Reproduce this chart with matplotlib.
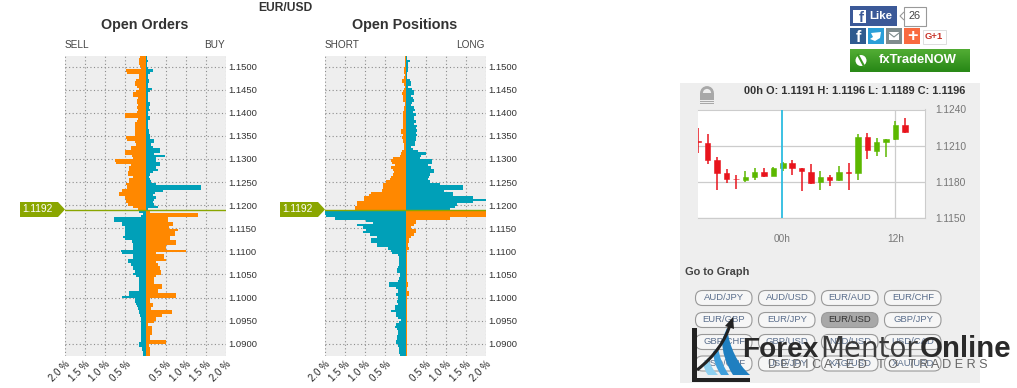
import numpy as np
import matplotlib
matplotlib.use("Agg")
import matplotlib.pyplot as plt
from matplotlib.colors import LinearSegmentedColormap
from matplotlib.patches import Rectangle, Polygon, FancyBboxPatch, PathPatch, Circle
from matplotlib.path import Path
from matplotlib.transforms import ScaledTranslation

plt.rcParams['font.family'] = ['Liberation Sans', 'DejaVu Sans']

# order book, % per 5 pip bin, top row first
orders_sell_up = [.13,.15,.17,.17,.13,.12,.48,.47,.15,.17, .23,.26,.25,.22,.15,.23,.32,.30,.19,.22,
                  .22,.19,.22,.19,.22,.52,.50,.19,.22,.25, .25,.25,.27,.27,.27,.48,.47,.25,.23,.35,
                  .35,.52,.50,.33,.32,.75,.73,.36,.40,.42, .44,.44,.30,.42,.40,.48,.47,.47,.58,.67,
                  .67,.50,.48,.48,.44,.32,.19]
orders_buy_up = [.04,.04,.06,.04,.04,.05,.18,.12,.06,.06, .08,.08,.06,.06,.17,.12,.06,.06,.06,.06,
                 .10,.10,.08,.10,.06,.06,.12,.12,.06,.07, .07,.07,.09,.09,.10,.10,.22,.20,.14,.18,
                 .37,.37,.20,.48,.27,.27,.35,.35,.27,.30, .18,.10,.08,.10,.14,.27,1.37,1.37,.43,.23,
                 .18,.25,.22,.18,.22,.30,.06]
orders_sell_down = [.15,.07,.10,.78,.78,.58,.58,.52,.50,.52, .52,.55,.50,.33,.32,.32,.32,.60,.58,.30,
                    .30,.44,.44,.35,.30,.30,.27,.30,.23,.15, .17,.17,.17,.15,.17,.40,.40,.58,.27,.25,
                    .23,.22,.19,.17,.15,.13,.12,.12,.12,.10, .10,.10,.10,.10,.10,.10,.10,.17,.17,.08,
                    .08,.07,.07]
orders_buy_down = [.10,1.30,1.30,.56,.56,.68,.68,.58,.80,.73, .73,.62,.62,.75,.75,.50,.50,1.00,.27,.45,
                   .45,.50,.27,.30,.35,.35,.38,.38,.27,.22, .20,.22,.40,.40,.30,.30,.75,.75,.10,.10,
                   .18,.18,.14,.65,.65,.40,.27,.27,.22,.06, .17,.17,.17,.17,.10,.10,.50,.50,.08,.12,
                   .12,.12,.12]
pos_short_up = [.02,.02,.02,.02,.02,.03,.04,.03,.02,.03, .08,.08,.03,.02,.03,.06,.08,.05,.07,.07,
                .02,.02,.03,.03,.05,.07,.07,.07,.05,.05, .05,.07,.11,.12,.07,.09,.05,.05,.04,.03,
                .04,.08,.10,.13,.30,.36,.34,.25,.36,.32, .28,.30,.35,.38,.48,.55,.57,.57,.58,.86,
                .90,1.02,1.02,1.20,1.20,1.25,1.25]
pos_long_up = [.03,.03,.12,.07,.07,.05,.06,.04,.04,.04, .10,.13,.13,.06,.17,.22,.22,.14,.18,.20,
               .17,.14,.22,.24,.18,.25,.22,.20,.27,.22, .28,.27,.28,.27,.28,.27,.27,.23,.23,.14,
               .18,.31,.50,.39,.35,.67,.67,.56,.64,.70, .70,.60,.58,.56,.60,.85,1.42,1.42,.95,1.18,
               1.18,1.68,2.00,1.68,1.27,1.22,1.10]
pos_short_down = [2.00,2.00,1.98,1.75,.98,.80,1.20,1.05,.98,1.05, .88,.72,.86,.86,.70,.70,.44,.36,.33,.19,
                  .17,.17,.15,.17,.19,.22,.22,.13,.13,.17, .19,.42,.42,.23,.19,.19,.23,.19,.19,.22,
                  .19,.27,.27,.36,.23,.23,.19,.11,.17,.23, .25,.22,.19,.19,.22,.22,.23,.23,.19,.17,
                  .15,.15,.13]
pos_long_down = [2.00,2.00,2.00,1.10,.27,.25,.20,.14,.25,.25, .20,.14,.08,.08,.06,.06,.08,.03,.03,.03,
                 .03,.03,.03,.03,.03,.03,.03,.03,.03,.03, .03,.05,.05,.03,.03,.08,.08,.03,.03,.03,
                 .03,.04,.04,.03,.03,.03,.03,.03,.03,.03, .03,.03,.03,.03,.03,.03,.03,.03,.03,.03,
                 .03,.03,.03]

price_ticks = [1.1500, 1.1450, 1.1400, 1.1350, 1.1300, 1.1250, 1.1200,
               1.1150, 1.1100, 1.1050, 1.1000, 1.0950, 1.0900]
pct_ticks = [-2.0, -1.5, -1.0, -0.5, 0.5, 1.0, 1.5, 2.0]
pct_labels = ['2.0 %', '1.5 %', '1.0 %', '0.5 %', '0.5 %', '1.0 %', '1.5 %', '2.0 %']
BIN = 0.0005
LINE_Y = 1.1189

# candles, hourly
c_open = [1.12138,1.12127,1.11981,1.11876,1.11827,1.11816,1.11843,1.11884,1.11849,1.11916,
          1.11957,1.11913,1.11886,1.11797,1.11843,1.11816,1.11881,1.11873,1.1217,1.1206,1.1213,1.12159,1.12273]
c_close = [1.12132,1.11981,1.11876,1.11827,1.11822,1.11843,1.11884,1.11846,1.11916,1.11957,
           1.11913,1.11889,1.11792,1.11843,1.11816,1.11884,1.11873,1.1217,1.12065,1.1213,1.12157,1.12273,1.12216]
c_high = [1.12246,1.12197,1.12008,1.11911,1.11857,1.11889,1.11913,1.11913,1.11922,1.11965,
          1.11986,1.11919,1.11949,1.11895,1.11857,1.11932,1.11959,1.12197,1.12203,1.12165,1.12159,1.12305,1.1233]
c_low = [1.12043,1.11949,1.11738,1.11792,1.11743,1.11803,1.11819,1.11838,1.11846,1.11895,
         1.11862,1.11724,1.11781,1.11732,1.1177,1.11808,1.11738,1.11819,1.11989,1.12014,1.12005,1.12151,1.12203]

pill_labels = [['AUD/JPY', 'AUD/USD', 'EUR/AUD', 'EUR/CHF'],
               ['EUR/GBP', 'EUR/JPY', 'EUR/USD', 'GBP/JPY'],
               ['GBP/CHF', 'GBP/USD', 'NZD/USD', 'USD/CAD'],
               ['USD/CHF', 'USD/JPY', 'XAG/USD', 'XAU/USD']]

W, H = 1017, 388
ORANGE = '#FF8800'
TEAL = '#00A0B8'
GREEN = '#8AA600'


def px_axes(fig, x0, y0, x1, y1, z=2):
    return fig.add_axes([x0/W, 1-y1/H, (x1-x0)/W, (y1-y0)/H], zorder=z)


def px(size):
    return size*0.72


def draw_book(fig, x0, left_up, right_up, left_down, right_down, lcol_up, rcol_up, lcol_dn, rcol_dn):
    ax = px_axes(fig, x0, 55.5, x0+161, 355.8)
    ax.set_facecolor('#EEEEEE')
    up_y = LINE_Y + BIN*(len(left_up)-np.arange(len(left_up))-0.5)
    dn_y = LINE_Y - BIN*(np.arange(len(left_down))+0.5)
    ax.barh(up_y, -np.array(left_up), height=BIN*1.02, color=lcol_up, zorder=3)
    ax.barh(up_y, right_up, height=BIN*1.02, color=rcol_up, zorder=3)
    ax.barh(dn_y, -np.array(left_down), height=BIN*1.02, color=lcol_dn, zorder=3)
    ax.barh(dn_y, right_down, height=BIN*1.02, color=rcol_dn, zorder=3)
    ax.axhline(LINE_Y, color=GREEN, lw=1.0, zorder=4)
    ax.set_xlim(-2, 2)
    ax.set_ylim(1.1189-63*BIN, 1.1189+33.5*0.001)
    ax.set_xticks(pct_ticks)
    ax.set_xticklabels(pct_labels, rotation=45, ha='right', va='top',
                       rotation_mode='anchor', fontsize=px(9.6), color='#222222')
    shift = ScaledTranslation(9/100, 4/100, fig.dpi_scale_trans)
    for t in ax.get_xticklabels():
        t.set_transform(t.get_transform() + shift)
    ax.set_yticks(price_ticks)
    ax.set_yticklabels(['%.4f' % p for p in price_ticks], fontsize=px(9.5), color='#333333')
    ax.yaxis.tick_right()
    ax.tick_params(length=0, pad=2)
    ax.tick_params(axis='y', pad=1.5)
    ax.grid(True, ls=(0, (1, 2.2)), color='#8C8C8C', lw=0.8)
    ax.set_axisbelow(True)
    for s in ax.spines.values():
        s.set_visible(False)
    return ax


def rect(bg, x0, y0, x1, y1, col, z=1, **kw):
    bg.add_patch(Rectangle((x0, y0), x1-x0, y1-y0, facecolor=col, edgecolor=kw.pop('ec', 'none'), zorder=z, **kw))


fig = plt.figure(figsize=(W/100, H/100), dpi=100, facecolor='white')
bg = fig.add_axes([0, 0, 1, 1], zorder=1)
bg.set_xlim(0, W)
bg.set_ylim(H, 0)
bg.axis('off')

top = fig.add_axes([0, 0, 1, 1], zorder=5)
top.set_xlim(0, W)
top.set_ylim(H, 0)
top.axis('off')
top.patch.set_alpha(0)

# order books
draw_book(fig, 65, orders_sell_up, orders_buy_up, orders_sell_down, orders_buy_down, ORANGE, TEAL, TEAL, ORANGE)
draw_book(fig, 325, pos_short_up, pos_long_up, pos_short_down, pos_long_down, ORANGE, TEAL, TEAL, ORANGE)

bg.text(285, 8, 'EUR/USD', fontsize=px(12), fontweight='bold', color='#333333', ha='center', va='center')
bg.text(144.5, 25, 'Open Orders', fontsize=px(14.2), fontweight='bold', color='#333333', ha='center', va='center')
bg.text(405, 25, 'Open Positions', fontsize=px(14.4), fontweight='bold', color='#333333', ha='center', va='center')
for x, t, ha in [(65, 'SELL', 'left'), (224.5, 'BUY', 'right'), (325, 'SHORT', 'left'), (484.5, 'LONG', 'right')]:
    bg.text(x, 45.5, t, fontsize=px(10), color='#444444', ha=ha, va='center')

for x0, x1 in [(20, 65), (280, 325)]:
    bg.add_patch(Polygon([(x0, 202), (x1-7, 202), (x1, 209.5), (x1-7, 217), (x0, 217)], closed=True,
                         facecolor=GREEN, edgecolor='none', zorder=3))
    bg.text(x0+2, 209.5, '1.1192', fontsize=px(10.2), color='white', ha='left', va='center', zorder=4)

# sidebar panel
rect(bg, 680, 83, 980, 383, '#EEEEEE')
bg.text(965, 91, '00h O: 1.1191 H: 1.1196 L: 1.1189 C: 1.1196', fontsize=px(10.95), fontweight='bold',
        color='#333333', ha='right', va='center', zorder=3)
# lock icon
bg.add_patch(Circle((707, 93), 5.5, facecolor='none', edgecolor='#A8A8A8', lw=2, zorder=3))
rect(bg, 700, 93, 714, 100, '#A8A8A8', z=4)
rect(bg, 700, 101, 714, 102.2, '#A8A8A8', z=4)
rect(bg, 700, 103, 714, 104, '#A8A8A8', z=4)

# candles
ca = px_axes(fig, 698, 109.5, 925, 218.3)
ca.set_facecolor('white')
n = np.arange(len(c_open))
for i in n:
    col = '#E8141C' if c_close[i] < c_open[i] else '#5CB800'
    ca.vlines(i, c_low[i], c_high[i], color=col, lw=1.1, zorder=3)
    b0, b1 = min(c_open[i], c_close[i]), max(c_open[i], c_close[i])
    ca.add_patch(Rectangle((i-0.29, b0), 0.58, b1-b0, facecolor=col, edgecolor=col, lw=0.4, zorder=3))
ca.set_xlim(-0.04, 24.15)
ca.set_ylim(1.1150, 1.1240)
ca.set_yticks([1.1150, 1.1180, 1.1210, 1.1240])
ca.set_yticklabels(['1.1150', '1.1180', '1.1210', '1.1240'], fontsize=px(10.2), color='#777777')
ca.yaxis.tick_right()
ca.set_xticks([8.9, 21])
ca.set_xticklabels(['00h', '12h'], fontsize=px(10), color='#777777')
ca.tick_params(length=0)
ca.tick_params(axis='y', pad=7.5)
ca.tick_params(axis='x', pad=11)
ca.grid(True, axis='y', color='#CCCCCC', lw=0.9)
ca.axvline(21, color='#CCCCCC', lw=0.9, zorder=1)
ca.axvline(8.9, color='#2CBCE0', lw=1.3, zorder=4)
ca.set_axisbelow(True)
ca.spines['left'].set_visible(False)
for s in ['top', 'bottom', 'right']:
    ca.spines[s].set_color('#CCCCCC')

# go to graph buttons
bg.text(685, 272, 'Go to Graph', fontsize=px(11), fontweight='bold', color='#444444', ha='left', va='center', zorder=3)
col_x = [695.5, 758.5, 821.5, 884.5]
row_y = [298, 320, 342, 363.5]
for r, row in enumerate(pill_labels):
    for c, lab in enumerate(row):
        sel = lab == 'EUR/USD'
        bg.add_patch(FancyBboxPatch((col_x[c]+1, row_y[r]-6.5), 54.5, 13, boxstyle='round,pad=1,rounding_size=7',
                                    facecolor='#A8A8A8' if sel else '#F6F6F6',
                                    edgecolor='#999999', lw=0.8, zorder=3))
        bg.text(col_x[c]+28.5, row_y[r], lab, fontsize=px(9.5), color='#333333' if sel else '#5A6E8C',
                ha='center', va='center', zorder=4)

# share buttons
rect(bg, 850, 6, 897, 26, '#3B5998')
rect(bg, 853, 10, 866, 23, 'white', z=2)
bg.text(861, 17.5, 'f', fontsize=px(15), fontweight='bold', color='#3B5998', ha='center', va='center', zorder=3)
bg.text(881, 16, 'Like', fontsize=px(11.5), fontweight='bold', color='white', ha='center', va='center', zorder=3)
rect(bg, 903.5, 6.5, 925.5, 25.5, 'white', ec='#999999', lw=0.8)
bg.text(914.5, 16, '26', fontsize=px(11), color='#444444', ha='center', va='center', zorder=3)
bg.add_patch(Polygon([(904, 12), (900, 16), (904, 20)], closed=False, facecolor='white', edgecolor='#999999', lw=0.8, zorder=3))
for x0, col in [(850, '#2F5B8F'), (868, '#2A9FD8'), (886, '#7F8C8D'), (904, '#F96A3F')]:
    rect(bg, x0, 28, x0+16, 44, col)
bg.text(858, 37, 'f', fontsize=px(16), fontweight='bold', color='white', ha='center', va='center', zorder=3)
bg.add_patch(Polygon([(871, 33), (881, 32), (880, 38), (875, 41), (870, 39), (873, 37)], facecolor='white', edgecolor='none', zorder=3))
rect(bg, 889, 32, 899, 40, 'white', z=2)
bg.plot([889, 894, 899], [33, 37, 33], color='#7F8C8D', lw=0.8, zorder=3)
bg.text(912, 36, '+', fontsize=px(18), fontweight='bold', color='white', ha='center', va='center', zorder=3)
rect(bg, 922.5, 29.5, 945.5, 43.5, 'white', ec='#DDDDDD', lw=0.7)
bg.text(934, 36.5, 'G+1', fontsize=px(9.5), fontweight='bold', color='#C8352B', ha='center', va='center', zorder=3)

# green trade button, shaded top to bottom
shade = np.array([[0.0], [0.25], [0.5], [0.75], [1.0]])
gr = LinearSegmentedColormap.from_list('gr', ['#4FAA32', '#2A8A18'])
bg.imshow(shade, extent=(850, 970, 72, 49), cmap=gr, aspect='auto', zorder=2, interpolation='bilinear')
bg.set_xlim(0, W)
bg.set_ylim(H, 0)
bg.add_patch(Circle((861, 60.5), 5.5, facecolor='white', edgecolor='none', zorder=3))
bg.plot([858, 864], [55, 66], color='#3A9A20', lw=1.5, zorder=4)
bg.text(918, 60, 'fxTradeNOW', fontsize=px(13), fontweight='bold', color='white', ha='center', va='center', zorder=3)

# forex mentor watermark
top.text(742, 357, 'Forex', fontsize=px(28), fontweight='bold', color='#2A2A2A', ha='left', va='baseline')
top.text(820, 357, 'Mentor', fontsize=px(27.8), family='DejaVu Sans', color='#3A3A3A', ha='left', va='baseline')
top.text(920, 357, 'Online', fontsize=px(29.5), fontweight='bold', color='#2A2A2A', ha='left', va='baseline')
top.text(768, 365, 'D E D I C A T E D   T O   T R A D E R S', fontsize=px(12.6), color='#666666', ha='left', va='center')
rect(top, 692, 328, 697, 382, '#222222')
rect(top, 692, 378, 750, 382, '#222222')
swooshes = [([(727, 328), (731, 358), (750, 375), (733, 375), (722, 358), (722, 340)], '#1F7FC0'),
            ([(718, 347), (720, 362), (729, 375), (721, 375), (714, 365), (713, 352)], '#3E9FDC'),
            ([(708, 358), (711, 368), (718, 375), (708, 375), (704, 370), (703, 363)], '#8ED0F0')]
codes = [Path.MOVETO, Path.CURVE3, Path.CURVE3, Path.LINETO, Path.CURVE3, Path.CURVE3, Path.CLOSEPOLY]
for pts, col in swooshes:
    top.add_patch(PathPatch(Path(pts+[pts[0]], codes), facecolor=col, edgecolor='none'))
top.add_patch(PathPatch(Path([(697, 370), (723, 350), (731, 322)], [Path.MOVETO, Path.CURVE3, Path.CURVE3]),
                        facecolor='none', edgecolor='#222222', lw=2.2))
top.add_patch(Polygon([(733, 317), (725, 326), (734, 329)], facecolor='#222222', edgecolor='none'))

fig.savefig('out.png', dpi=100, facecolor='white')
